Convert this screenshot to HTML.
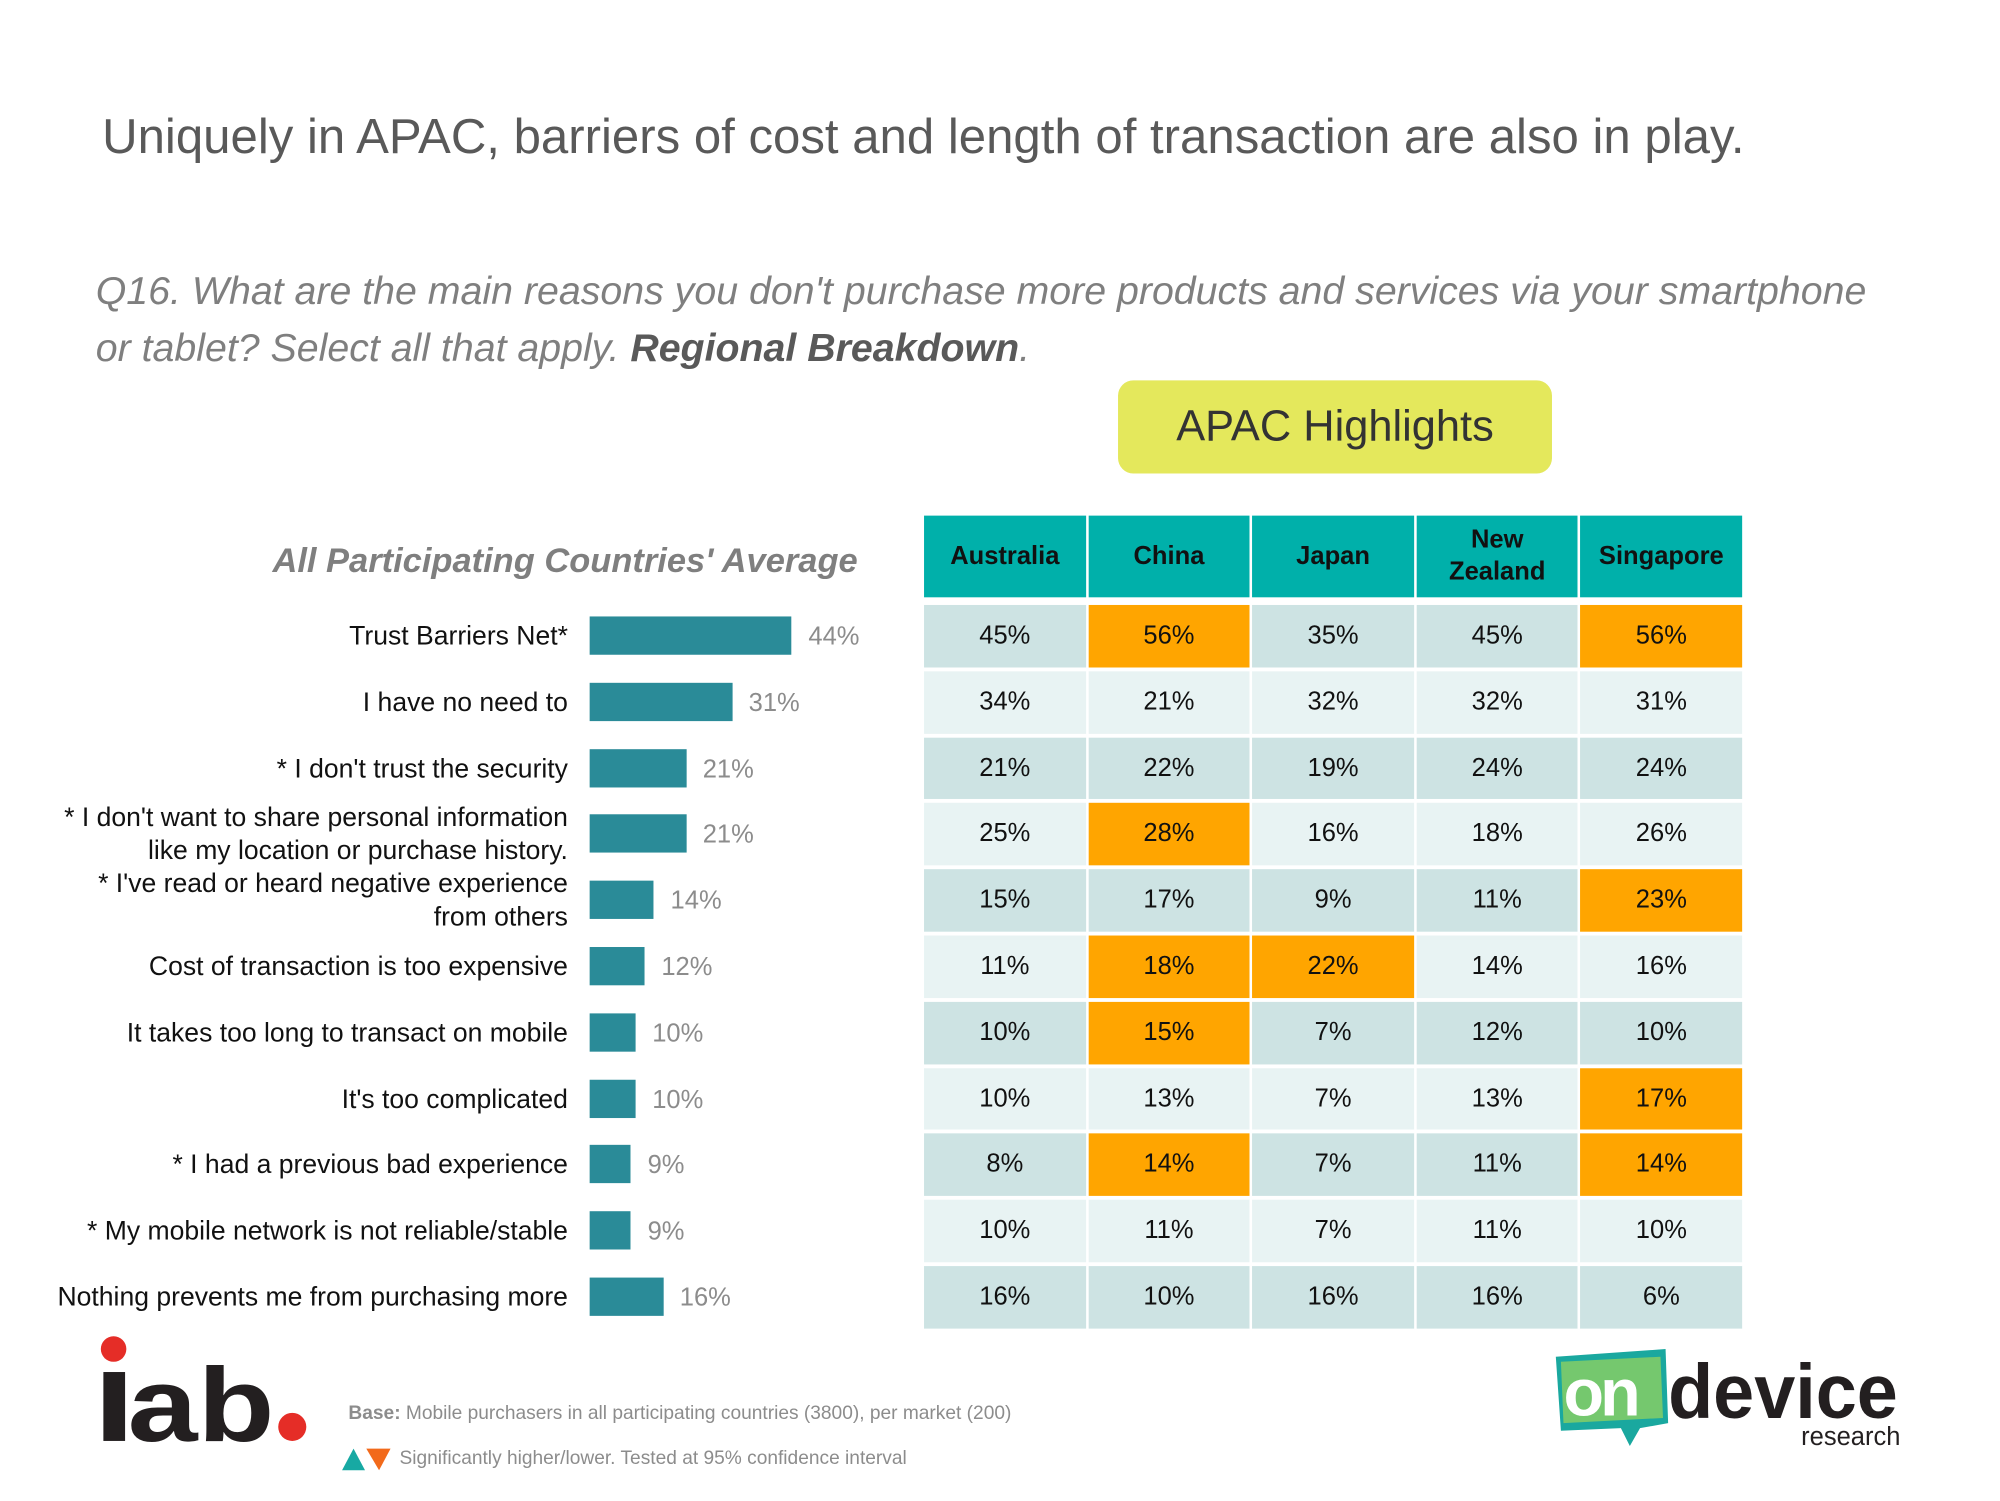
<!DOCTYPE html>
<html><head><meta charset="utf-8">
<style>
html,body{margin:0;padding:0;background:#fff;width:2000px;height:1500px;overflow:hidden}
#s{position:absolute;left:0;top:0;width:1568px;height:1176px;transform:scale(1.2763);transform-origin:0 0;font-family:"Liberation Sans",Arial,sans-serif}
.a{position:absolute}
.t{position:absolute;white-space:nowrap}
</style></head><body>
<div id="s">
<div class="t" style="left:80px;top:86px;font-size:38.5px;color:#595959">Uniquely in APAC, barriers of cost and length of transaction are also in play.</div>
<div class="t" style="left:75px;top:205px;font-size:30.8px;color:#7f7f7f;font-style:italic;line-height:45px">Q16. What are the main reasons you don't purchase more products and services via your smartphone<br>or tablet? Select all that apply. <b style="color:#595959">Regional Breakdown</b>.</div>
<div class="a" style="left:876px;top:298px;width:340px;height:73px;background:#e4e85c;border-radius:12px;font-size:34px;color:#333;text-align:center;line-height:73px">APAC Highlights</div>
<div class="t" style="right:896px;top:424px;font-size:27px;font-style:italic;font-weight:bold;color:#7f7f7f">All Participating Countries' Average</div>
<div id="chart"></div>
<div id="table"></div>
<svg class="a" style="left:78px;top:1045px" width="170" height="90" viewBox="0 0 170 90">
<circle cx="11" cy="12" r="10" fill="#e52d27"/>
<rect x="3" y="30" width="17" height="54" fill="#231f20"/>
<text x="22" y="84" font-family="Liberation Sans" font-weight="bold" font-size="82" fill="#231f20" textLength="115" lengthAdjust="spacingAndGlyphs">ab</text>
<circle cx="151" cy="73" r="11" fill="#e52d27"/>
</svg>
<div class="t" style="left:273px;top:1099px;font-size:15px;color:#8c8c8c"><b>Base:</b> Mobile purchasers in all participating countries (3800), per market (200)</div>
<svg class="a" style="left:268px;top:1133px" width="42" height="20"><polygon points="0,19 9,2 18,19" fill="#17a9a3"/><polygon points="19,2 38,2 29,19" fill="#f26a1b"/></svg>
<div class="t" style="left:313px;top:1134px;font-size:15px;color:#8c8c8c">Significantly higher/lower. Tested at 95% confidence interval</div>
<svg class="a" style="left:1215px;top:1055px" width="280" height="82" viewBox="0 0 280 82">
<polygon points="4,8 90,2 92,60 70,64 62,78 55,64 8,66" fill="#1aa89f"/>
<polygon points="8,12 86,8 88,56 10,60" fill="#9cd65a" opacity="0.7"/>
<text x="10" y="54" font-family="Liberation Sans" font-weight="bold" font-size="52" fill="#fff" letter-spacing="-3">on</text>
<text x="92" y="56" font-family="Liberation Sans" font-weight="bold" font-size="60" fill="#231f20" textLength="180" lengthAdjust="spacingAndGlyphs">device</text>
<text x="274" y="77" text-anchor="end" font-family="Liberation Sans" font-size="20" fill="#231f20">research</text>
</svg>
</div>
<script>
const categories=["Trust Barriers Net*","I have no need to","* I don't trust the security","* I don't want to share personal information|like my location or purchase history.","* I've read or heard negative experience|from others","Cost of transaction is too expensive","It takes too long to transact on mobile","It's too complicated","* I had a previous bad experience","* My mobile network is not reliable/stable","Nothing prevents me from purchasing more"];
const averages=[44,31,21,21,14,12,10,10,9,9,16];
const countries=["Australia","China","Japan","New|Zealand","Singapore"];
const australia=[45,34,21,25,15,11,10,10,8,10,16];
const china=[56,21,22,28,17,18,15,13,14,11,10];
const japan=[35,32,19,16,9,22,7,7,7,7,16];
const newZealand=[45,32,24,18,11,14,12,13,11,11,16];
const singapore=[56,31,24,26,23,16,10,17,14,10,6];
const highlights=[[0,1],[0,4],[3,1],[4,4],[5,1],[5,2],[6,1],[7,4],[8,1],[8,4]];
const series=[australia,china,japan,newZealand,singapore];
const s=document.getElementById('s');
const x0=462,pxPer=3.6,rowTop=474,pitch=51.8,barH=30;
const xs=v=>v*pxPer;
const yc=i=>rowTop+24+i*pitch;
categories.forEach((c,i)=>{
  const l=document.createElement('div');
  
  
  l.className='t';
  const lines=c.split('|');
  l.innerHTML=lines.join('<br>');
  l.style.cssText=`right:${1568-445}px;top:${yc(i)-(lines.length*26)/2+1}px;font-size:20.8px;line-height:26px;text-align:right;color:#111`;
  s.appendChild(l);
  const b=document.createElement('div');
  
  
  b.className='a';
  b.style.cssText=`left:${x0}px;top:${yc(i)-barH/2}px;width:${xs(averages[i])}px;height:${barH}px;background:#2a8b98`;
  s.appendChild(b);
  const v=document.createElement('div');
  
  
  v.className='t';
  v.textContent=averages[i]+'%';
  v.style.cssText=`left:${x0+xs(averages[i])+13}px;top:${yc(i)-11}px;font-size:20px;line-height:24px;color:#8c8c8c`;
  s.appendChild(v);
});
const tx=724,cw=128.6;
countries.forEach((c,j)=>{
  const h=document.createElement('div');
  
  
  h.className='a';
  const lines=c.split('|');
  h.innerHTML=lines.join('<br>');
  h.style.cssText=`left:${tx+j*cw}px;top:404px;width:${cw-2}px;height:64px;background:#00b0aa;display:flex;align-items:center;justify-content:center;text-align:center;font-weight:bold;font-size:20px;line-height:25px;color:#111`;
  s.appendChild(h);
});
series.forEach((arr,j)=>{
  arr.forEach((v,i)=>{
    const hl=highlights.some(p=>p[0]===i&&p[1]===j);
    const c=document.createElement('div');
    
    
    c.className='a';
    c.textContent=v+'%';
    c.style.cssText=`left:${tx+j*cw}px;top:${rowTop+i*pitch}px;width:${cw-2}px;height:${pitch-3}px;background:${hl?'#ffa500':(i%2?'#e8f3f3':'#cde3e3')};text-align:center;line-height:${pitch-3}px;font-size:20px;color:#111`;
    s.appendChild(c);
  });
});
</script>
</body></html>
